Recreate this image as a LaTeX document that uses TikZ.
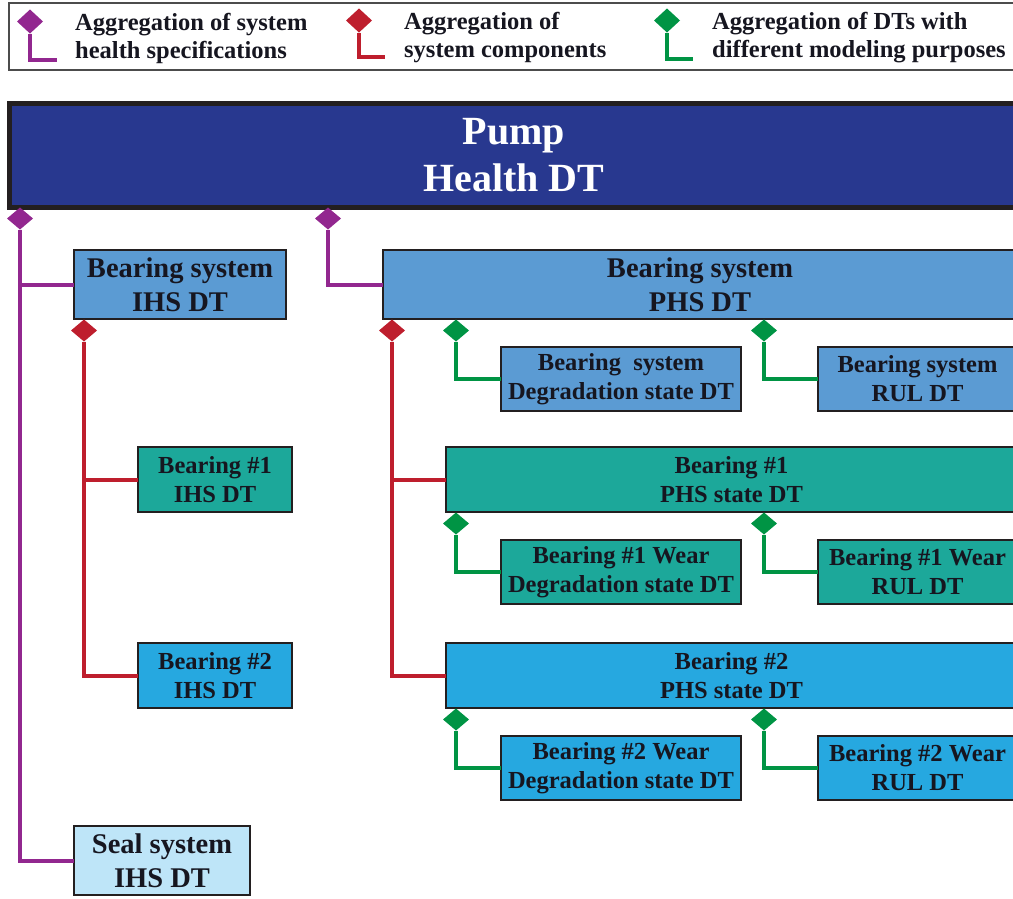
\documentclass[tikz,border=0pt]{standalone}
\usepackage{fontspec}
\setmainfont{Liberation Serif}

\definecolor{pumpblue}{RGB}{40,56,143}
\definecolor{sysblue}{RGB}{91,155,211}
\definecolor{bteal}{RGB}{28,168,154}
\definecolor{bcyan}{RGB}{38,168,224}
\definecolor{sealblue}{RGB}{190,229,248}
\definecolor{aggpurple}{RGB}{146,39,143}
\definecolor{aggred}{RGB}{190,30,45}
\definecolor{agggreen}{RGB}{0,148,68}
\definecolor{inkdark}{RGB}{22,22,32}
\definecolor{edgedark}{RGB}{35,31,32}

\tikzset{
  dtbox/.style={draw=edgedark, line width=2.8pt, text=inkdark, align=center,
    inner sep=0pt, outer sep=0pt, font=\bfseries\fontsize{24.5}{29}\selectfont},
  bigtext/.style={font=\bfseries\fontsize{28.5}{34}\selectfont},
  % a filled rhombus spanning the node's box
  rhombus/.style={draw=none, inner sep=0pt, outer sep=0pt,
    path picture={\fill[#1] (path picture bounding box.north)
      -- (path picture bounding box.east)
      -- (path picture bounding box.south)
      -- (path picture bounding box.west) -- cycle;}},
  agg/.style={rhombus=#1, minimum width=26pt, minimum height=22pt, anchor=north},
  legagg/.style={rhombus=#1, minimum width=26pt, minimum height=24pt, anchor=center},
  aggline/.style={draw=#1, line width=4pt},
  legline/.style={draw=#1, line width=4.3pt},
  legtext/.style={anchor=west, align=left, text=inkdark, inner sep=0pt,
    font=\bfseries\fontsize{24.5}{28}\selectfont},
}

\begin{document}
\begin{tikzpicture}[x=1pt,y=-1pt]
\useasboundingbox (0,0) rectangle (1013,898);
\clip (0,0) rectangle (1013,898);

% legend
\node[draw=gray!60!black, line width=1.5pt, minimum width=1011pt,
      minimum height=67pt, inner sep=0pt] (legend) at (514.5,36.5) {};
\node[legagg=aggpurple] (lgP) at (30,21.5) {};
\coordinate (lgPend) at (57,60);
\draw[legline=aggpurple] (lgP.south) |- (lgPend);
\node[legtext] (ltP) at (75,38) {Aggregation of system\\health specifications};

\node[legagg=aggred] (lgR) at (359,20.5) {};
\coordinate (lgRend) at (385,57);
\draw[legline=aggred] (lgR.south) |- (lgRend);
\node[legtext] (ltR) at (404,38) {Aggregation of\\system components};

\node[legagg=agggreen] (lgG) at (667,20.5) {};
\coordinate (lgGend) at (693,59);
\draw[legline=agggreen] (lgG.south) |- (lgGend);
\node[legtext] (ltG) at (712,38) {Aggregation of DTs with\\different modeling purposes};

% top level
\node[draw=edgedark, line width=5pt, fill=pumpblue, text=white, align=center,
      minimum width=1009pt, minimum height=104pt, inner sep=0pt,
      font=\bfseries\fontsize{40}{47}\selectfont] (pump) at (514,155.5)
      {Pump\\Health DT};

% system level
\node[dtbox, bigtext, fill=sysblue, minimum width=212pt, minimum height=69pt]
  (ihs) at (180,284.5) {Bearing system\\IHS DT};
\node[dtbox, bigtext, fill=sysblue, minimum width=634pt, minimum height=69pt]
  (phs) at (700,284.5) {Bearing system\\PHS DT};
\node[dtbox, bigtext, fill=sealblue, minimum width=176pt, minimum height=69pt]
  (seal) at (162,860.5) {Seal system\\IHS DT};

\node[dtbox, fill=sysblue, minimum width=240pt, minimum height=64pt]
  (degr) at (621,379) {Bearing~~system\\Degradation state DT};
\node[dtbox, fill=sysblue, minimum width=199pt, minimum height=64pt]
  (rul) at (917.5,379) {Bearing system\\RUL DT};

% bearing #1
\node[dtbox, fill=bteal, minimum width=154pt, minimum height=65pt]
  (bAihs) at (215,479.5) {Bearing \#1\\IHS DT};
\node[dtbox, fill=bteal, minimum width=571pt, minimum height=65pt]
  (bAphs) at (731.5,479.5) {Bearing \#1\\PHS state DT};
\node[dtbox, fill=bteal, minimum width=240pt, minimum height=64pt]
  (bAdegr) at (621,572) {Bearing \#1 Wear\\Degradation state DT};
\node[dtbox, fill=bteal, minimum width=199pt, minimum height=64pt]
  (bArul) at (917.5,572) {Bearing \#1 Wear\\RUL DT};

% bearing #2
\node[dtbox, fill=bcyan, minimum width=154pt, minimum height=65pt]
  (bBihs) at (215,675.5) {Bearing \#2\\IHS DT};
\node[dtbox, fill=bcyan, minimum width=571pt, minimum height=65pt]
  (bBphs) at (731.5,675.5) {Bearing \#2\\PHS state DT};
\node[dtbox, fill=bcyan, minimum width=240pt, minimum height=64pt]
  (bBdegr) at (621,768) {Bearing \#2 Wear\\Degradation state DT};
\node[dtbox, fill=bcyan, minimum width=199pt, minimum height=64pt]
  (bBrul) at (917.5,768) {Bearing \#2 Wear\\RUL DT};

% aggregation of health specifications
\node[agg=aggpurple] (dP1) at (20,207.5) {};
\node[agg=aggpurple] (dP2) at (328,207.5) {};
\draw[aggline=aggpurple] (dP1.south) |- (ihs.west);
\draw[aggline=aggpurple] (dP1.south) |- (seal.west);
\draw[aggline=aggpurple] (dP2.south) |- (phs.west);

% aggregation of components
\node[agg=aggred] (dR1) at (84,319.5) {};
\node[agg=aggred] (dR2) at (392,319.5) {};
\draw[aggline=aggred] (dR1.south) |- (bAihs.west);
\draw[aggline=aggred] (dR1.south) |- (bBihs.west);
\draw[aggline=aggred] (dR2.south) |- (bAphs.west);
\draw[aggline=aggred] (dR2.south) |- (bBphs.west);

% aggregation of modeling purposes
\node[agg=agggreen] (dG1) at (456,319.5) {};
\node[agg=agggreen] (dG2) at (764,319.5) {};
\node[agg=agggreen] (dG3) at (456,512.5) {};
\node[agg=agggreen] (dG4) at (764,512.5) {};
\node[agg=agggreen] (dG5) at (456,708.5) {};
\node[agg=agggreen] (dG6) at (764,708.5) {};
\draw[aggline=agggreen] (dG1.south) |- (degr.west);
\draw[aggline=agggreen] (dG2.south) |- (rul.west);
\draw[aggline=agggreen] (dG3.south) |- (bAdegr.west);
\draw[aggline=agggreen] (dG4.south) |- (bArul.west);
\draw[aggline=agggreen] (dG5.south) |- (bBdegr.west);
\draw[aggline=agggreen] (dG6.south) |- (bBrul.west);

\end{tikzpicture}
\end{document}
